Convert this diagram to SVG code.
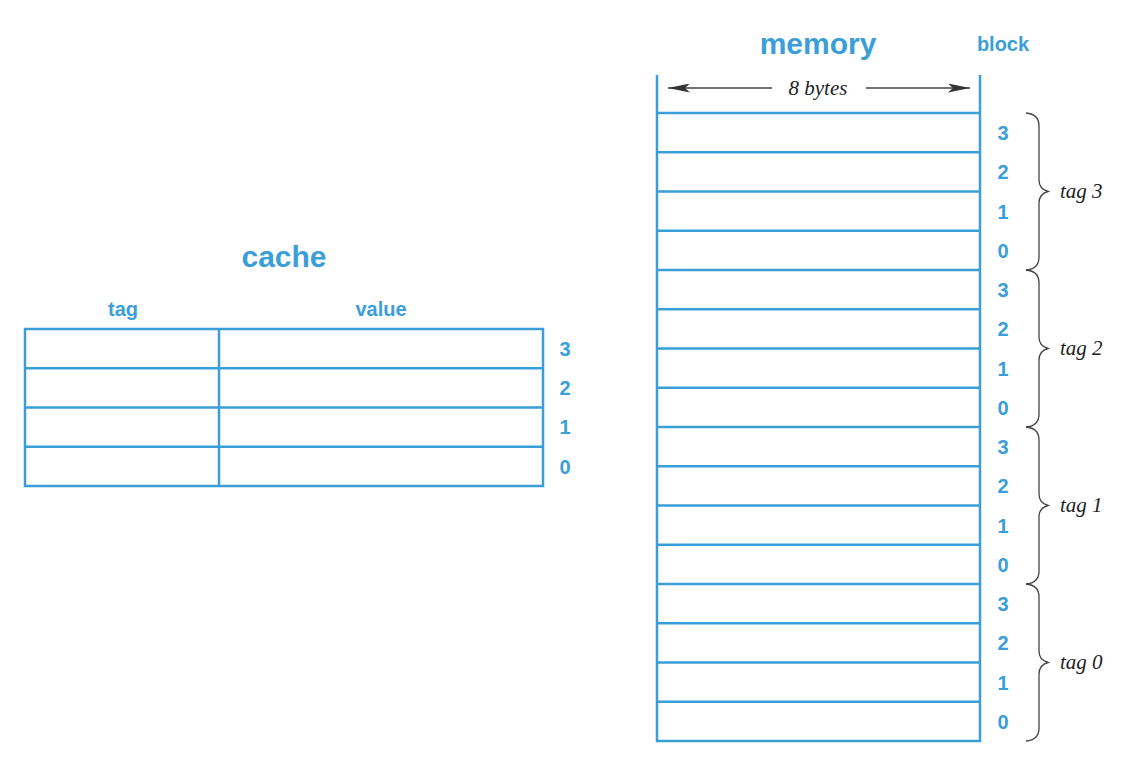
<svg xmlns="http://www.w3.org/2000/svg" width="1138" height="768" viewBox="0 0 1138 768">
<defs>
<style>
.grid{stroke:#3a9fd8;stroke-width:2.5;fill:none}
.title{font-family:"Liberation Sans",Arial,sans-serif;font-weight:bold;fill:#3a9fd8}
.num{font-family:"Liberation Sans",Arial,sans-serif;font-weight:bold;fill:#3a9fd8;font-size:20px;text-anchor:middle}
.it{font-family:"Liberation Serif","Times New Roman",serif;font-style:italic;fill:#222;font-size:21px}
.brace{stroke:#444;stroke-width:1.3;fill:none}
.dim{stroke:#444;stroke-width:1.4;fill:none}
</style>
<marker id="ah" viewBox="0 0 22 9" refX="22" refY="4.5" markerWidth="22" markerHeight="9" markerUnits="userSpaceOnUse" orient="auto-start-reverse">
<path d="M0,0 L22,4.5 L0,9 L5,4.5 Z" fill="#333"/>
</marker>
</defs>
<rect width="1138" height="768" fill="#fff"/>

<g id="cache">
<text class="title" x="284" y="267" font-size="30" text-anchor="middle">cache</text>
<text class="title" x="123" y="316" font-size="20" text-anchor="middle">tag</text>
<text class="title" x="381" y="316" font-size="20" text-anchor="middle">value</text>
<rect class="grid" x="25" y="329" width="518" height="157"/>
<path class="grid" d="M219,329 V486 M25,368.25 H543 M25,407.5 H543 M25,446.75 H543"/>
<text class="num" x="565" y="356">3</text>
<text class="num" x="565" y="395">2</text>
<text class="num" x="565" y="434">1</text>
<text class="num" x="565" y="474">0</text>
</g>

<g id="memory">
<text class="title" x="818" y="54" font-size="30" text-anchor="middle">memory</text>
<text class="title" x="1003" y="51" font-size="20" text-anchor="middle">block</text>
<path class="grid" d="M657,75 V741 H980 V75 M657,113 H980 M657,152.25 H980 M657,191.5 H980 M657,230.75 H980 M657,270 H980 M657,309.25 H980 M657,348.5 H980 M657,387.75 H980 M657,427 H980 M657,466.25 H980 M657,505.5 H980 M657,544.75 H980 M657,584 H980 M657,623.25 H980 M657,662.5 H980 M657,701.75 H980"/>
<text class="it" x="818" y="95" text-anchor="middle">8 bytes</text>
<g class="num">
<text x="1003" y="140">3</text><text x="1003" y="179">2</text><text x="1003" y="219">1</text><text x="1003" y="258">0</text>
<text x="1003" y="297">3</text><text x="1003" y="336">2</text><text x="1003" y="376">1</text><text x="1003" y="415">0</text>
<text x="1003" y="454">3</text><text x="1003" y="493">2</text><text x="1003" y="533">1</text><text x="1003" y="572">0</text>
<text x="1003" y="611">3</text><text x="1003" y="650">2</text><text x="1003" y="690">1</text><text x="1003" y="729">0</text>
</g>
</g>

<g id="connectors">
<path class="dim" d="M772,88 H668" marker-end="url(#ah)"/>
<path class="dim" d="M866,88 H970" marker-end="url(#ah)"/>
<path class="brace" d="M1026,113 Q1039,114 1039,126 V180 Q1039,189 1048,191.5 Q1039,194 1039,203 V257 Q1039,269 1026,270"/>
<path class="brace" d="M1026,270 Q1039,271 1039,283 V337 Q1039,346 1048,348.5 Q1039,351 1039,360 V414 Q1039,426 1026,427"/>
<path class="brace" d="M1026,427 Q1039,428 1039,440 V494 Q1039,503 1048,505.5 Q1039,508 1039,517 V571 Q1039,583 1026,584"/>
<path class="brace" d="M1026,584 Q1039,585 1039,597 V651 Q1039,660 1048,662.5 Q1039,665 1039,674 V728 Q1039,740 1026,741"/>
</g>

<g id="tags">
<text class="it" x="1060" y="198">tag 3</text>
<text class="it" x="1060" y="355">tag 2</text>
<text class="it" x="1060" y="512">tag 1</text>
<text class="it" x="1060" y="669">tag 0</text>
</g>
</svg>
